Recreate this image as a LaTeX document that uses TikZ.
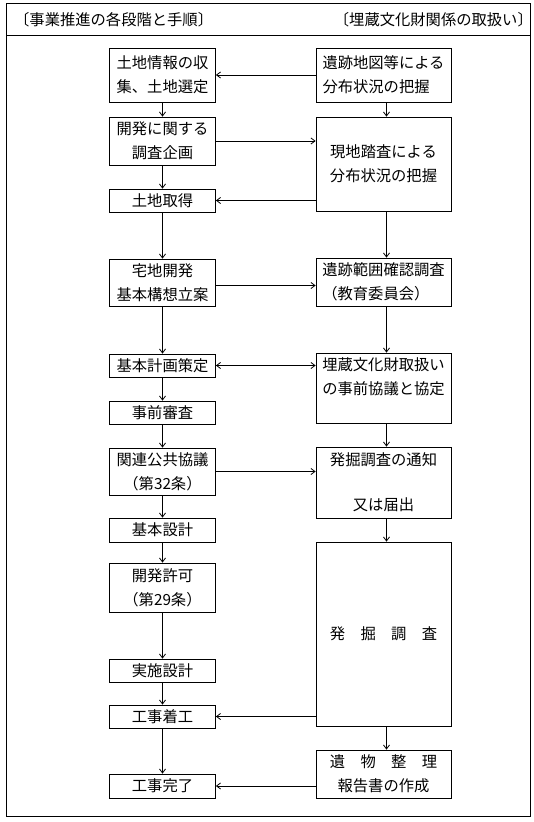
\documentclass[tikz,border=0pt]{standalone}
\usepackage{fontspec}
\newfontfamily\jp{Noto Sans CJK JP}
\usetikzlibrary{arrows.meta}
\begin{document}
\begin{tikzpicture}[x=1pt,y=-1pt,
  box/.style={draw, line width=0.8pt, inner sep=0pt, align=center,
    font=\jp\fontsize{15.3}{24}\selectfont},
  lbox/.style={box, minimum width=106pt},
  rbox/.style={box, minimum width=135pt},
  tip/.tip={Straight Barb[length=4pt,width=6pt]},
  arr/.style={line width=0.8pt, -tip},
  arrtwo/.style={line width=0.8pt, tip-tip},
  hdr/.style={inner sep=0pt, font=\jp\fontsize{15.3}{18}\selectfont},
  framestyle/.style={line width=0.9pt}]
\useasboundingbox (0,0) rectangle (534,822);
% frame
\draw[framestyle] (6,3) rectangle (530,816);
\draw[framestyle] (6,35) -- (530,35);
\node[hdr, anchor=west] (H1) at (14,19.5) {〔事業推進の各段階と手順〕};
\node[hdr, anchor=east] (H2) at (533,19.5) {〔埋蔵文化財関係の取扱い〕};
% left column
\node[lbox, minimum height=54pt] (L1) at (162.5,75) {土地情報の収\\集、土地選定};
\node[lbox, minimum height=48pt] (L2) at (162.5,141) {開発に関する\\調査企画};
\node[lbox, minimum height=23pt] (L3) at (162.5,200.5) {土地取得};
\node[lbox, minimum height=47pt] (L4) at (162.5,282.5) {宅地開発\\基本構想立案};
\node[lbox, minimum height=23pt] (L5) at (162.5,365.5) {基本計画策定};
\node[lbox, minimum height=23pt] (L6) at (162.5,412.5) {事前審査};
\node[lbox, minimum height=47pt] (L7) at (162.5,471.5) {関連公共協議\\（第32条）};
\node[lbox, minimum height=24pt] (L8) at (162.5,530) {基本設計};
\node[lbox, minimum height=49pt] (L9) at (162.5,587.5) {開発許可\\（第29条）};
\node[lbox, minimum height=23pt] (L10) at (162.5,670.5) {実施設計};
\node[lbox, minimum height=23pt] (L11) at (162.5,716.5) {工事着工};
\node[lbox, minimum height=24pt] (L12) at (162.5,786) {工事完了};
% right column
\node[rbox, minimum height=54pt, align=left] (R1) at (383.5,75) {遺跡地図等による\\分布状況の把握};
\node[rbox, minimum height=94pt] (R2) at (383.5,164) {現地踏査による\\分布状況の把握};
\node[rbox, minimum height=48pt, align=left] (R3) at (383.5,282) {遺跡範囲確認調査\\（教育委員会）};
\node[rbox, minimum height=70pt] (R4) at (383.5,388) {埋蔵文化財取扱い\\の事前協議と協定\\\mbox{}};
\node[rbox, minimum height=71pt] (R5) at (383.5,482.5) {発掘調査の通知\\[21pt]又は届出};
\node[rbox, minimum height=184pt] (R6) at (383.5,634) {発　掘　調　査};
\node[rbox, minimum height=48pt] (R7) at (383.5,774) {遺　物　整　理\\報告書の作成};
% vertical arrows, left
\draw[arr] (L1.south) -- (L2.north);
\draw[arr] (L2.south) -- (L3.north);
\draw[arr] (L3.south) -- (L4.north);
\draw[arr] (L4.south) -- (L5.north);
\draw[arr] (L5.south) -- (L6.north);
\draw[arr] (L6.south) -- (L7.north);
\draw[arr] (L7.south) -- (L8.north);
\draw[arr] (L8.south) -- (L9.north);
\draw[arr] (L9.south) -- (L10.north);
\draw[arr] (L10.south) -- (L11.north);
\draw[arr] (L11.south) -- (L12.north);
% vertical arrows, right
\draw[arr] ([xshift=3pt]R1.south) -- ([xshift=3pt]R2.north);
\draw[arr] ([xshift=3pt]R2.south) -- ([xshift=3pt]R3.north);
\draw[arr] ([xshift=3pt]R3.south) -- ([xshift=3pt]R4.north);
\draw[arr] ([xshift=3pt]R4.south) -- ([xshift=3pt]R5.north);
\draw[arr] ([xshift=3pt]R5.south) -- ([xshift=3pt]R6.north);
\draw[arr] ([xshift=3pt]R6.south) -- ([xshift=3pt]R7.north);
% horizontal arrows
\draw[arr] (R1.west) -- (L1.east);
\draw[arr] (L2.east) -- (L2.east -| R2.west);
\draw[arr] (R2.west |- L3.east) -- (L3.east);
\draw[arr] ([yshift=-3pt]L4.east) -- ([yshift=-3pt]L4.east -| R3.west);
\draw[arrtwo] (L5.east) -- (L5.east -| R4.west);
\draw[arr] (L7.east) -- (L7.east -| R5.west);
\draw[arr] (R6.west |- L11.east) -- (L11.east);
\draw[arr] (R7.west |- L12.east) -- (L12.east);
\end{tikzpicture}
\end{document}
